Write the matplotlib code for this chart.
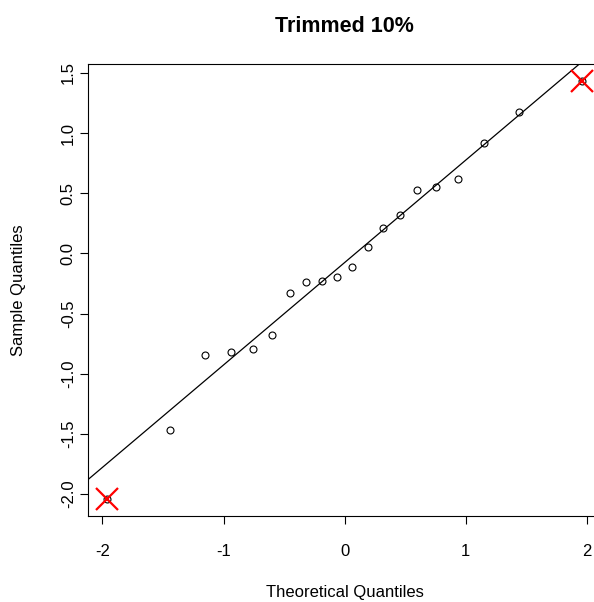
import numpy as np
import matplotlib.pyplot as plt

plt.rcParams['font.family'] = ['Liberation Sans', 'DejaVu Sans']

# normal scores (theoretical quantiles) and the sample values
theoretical = [-1.96, -1.44, -1.15, -0.935, -0.755, -0.598, -0.454, -0.319, -0.189, -0.063,
               0.063, 0.189, 0.319, 0.454, 0.598, 0.755, 0.935, 1.15, 1.44, 1.96]
sample = [-2.043, -1.471, -0.848, -0.821, -0.793, -0.677, -0.327, -0.235, -0.226, -0.199,
          -0.115, 0.057, 0.212, 0.315, 0.523, 0.551, 0.615, 0.918, 1.173, 1.432]
trimmed_idx = [0, 19]  # the points removed by the 10% trim
line_intercept = -0.076
line_slope = 0.851

x_ticks = [-2, -1, 0, 1, 2]
y_ticks = [-2.0, -1.5, -1.0, -0.5, 0.0, 0.5, 1.0, 1.5]

fig = plt.figure(figsize=(5.94, 6.02), dpi=100)
ax = fig.add_axes([88.3 / 594, 86 / 602, (601 - 88.3) / 594, (516 - 64.3) / 602])

ax.plot(theoretical, sample, 'o', mfc='none', mec='black', ms=5, mew=0.8)
ax.axline((0, line_intercept), slope=line_slope, color='black', lw=0.9)
ax.plot([theoretical[i] for i in trimmed_idx], [sample[i] for i in trimmed_idx],
        'x', color='red', ms=16, mew=1.6)

xr = theoretical[-1] - theoretical[0]
yr = max(sample) - min(sample)
ax.set_xlim(theoretical[0] - 0.04 * xr, theoretical[-1] + 0.04 * xr)
ax.set_ylim(min(sample) - 0.04 * yr, max(sample) + 0.04 * yr)

ax.set_xticks(x_ticks)
ax.set_xticklabels([str(t) for t in x_ticks])
ax.set_yticks(y_ticks)
ax.set_yticklabels(['%.1f' % t for t in y_ticks], rotation=90, va='center')
ax.tick_params(axis='both', direction='out', length=6, width=0.8, labelsize=12)
ax.tick_params(axis='x', pad=14)
ax.tick_params(axis='y', pad=3)
for s in ax.spines.values():
    s.set_linewidth(0.8)

fig.text(344.7 / 594, 1 - 27 / 602, 'Trimmed 10%', ha='center', va='center',
         fontsize=15.5, fontweight='bold')
fig.text(344.7 / 594, 1 - 593 / 602, 'Theoretical Quantiles', ha='center', va='center',
         fontsize=12)
fig.text(19 / 594, 1 - 290 / 602, 'Sample Quantiles', ha='center', va='center',
         rotation=90, fontsize=12)

fig.savefig('out.png', dpi=100)
